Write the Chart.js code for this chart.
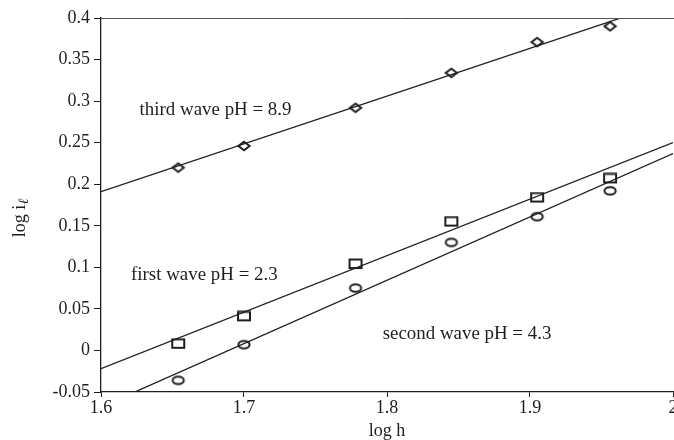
<!DOCTYPE html>
<html>
<head>
<meta charset="utf-8">
<script src="https://cdn.jsdelivr.net/npm/chart.js@4/dist/chart.umd.min.js"></script>
<style>
html,body{margin:0;padding:0;background:#fff;overflow:hidden;width:674px;height:440px}
#c{display:block}
</style>
</head>
<body>
<canvas id="c" width="700" height="440"></canvas>
<script>
// ---- data ----
const logH = [1.654, 1.700, 1.778, 1.845, 1.905, 1.956];
const firstWave = [0.008, 0.041, 0.104, 0.155, 0.184, 0.207];   // pH 2.3 (squares)
const secondWave = [-0.036, 0.007, 0.075, 0.130, 0.161, 0.192]; // pH 4.3 (circles)
const thirdWave = [0.220, 0.246, 0.292, 0.334, 0.371, 0.390];   // pH 8.9 (diamonds)
const fitX = [1.6, 2.0];
const firstFit = [-0.022, 0.250];
const secondFit = [-0.068, 0.237];
const thirdFit = [0.191, 0.421];
const xTicks = [1.6, 1.7, 1.8, 1.9, 2.0];
const yTicks = [-0.05, 0, 0.05, 0.1, 0.15, 0.2, 0.25, 0.3, 0.35, 0.4];
const notes = [
  {text: 'third wave pH = 8.9', x: 1.627, y: 0.289},
  {text: 'first wave pH = 2.3', x: 1.621, y: 0.090},
  {text: 'second wave pH = 4.3', x: 1.797, y: 0.020}
];

// ---- styling ----
const FAMILY = "'Liberation Serif','Times New Roman',serif";
const FS = 18;
const INK = '#1e1e1e';

function marker(kind) {
  const c = document.createElement('canvas');
  c.width = 16; c.height = 12;
  const g = c.getContext('2d');
  g.strokeStyle = INK; g.lineWidth = 2;
  g.beginPath();
  if (kind === 'square') {
    g.rect(2, 1.5, 12, 8.5);
  } else if (kind === 'circle') {
    g.ellipse(8, 6, 5.6, 3.8, 0, 0, Math.PI * 2);
  } else {
    g.moveTo(8, 1.8); g.lineTo(13.6, 6); g.lineTo(8, 10.2); g.lineTo(2.4, 6); g.closePath();
  }
  g.stroke();
  return c;
}

const pts = (xs, ys) => xs.map((x, i) => ({x, y: ys[i]}));
const fmt = v => String(Math.round(v * 100) / 100);

const lineDs = (ys) => ({
  type: 'line', data: pts(fitX, ys), borderColor: INK, borderWidth: 1.3,
  pointRadius: 0, fill: false, showLine: true, order: 2
});
const markDs = (ys, kind) => ({
  type: 'scatter', data: pts(logH, ys), pointStyle: marker(kind), pointRadius: 5,
  showLine: false, order: 1
});

const annotations = {
  id: 'annotations',
  afterDatasetsDraw(chart) {
    const {ctx, scales: {x, y}, chartArea} = chart;
    ctx.save();
    ctx.fillStyle = INK;
    ctx.font = FS + 'px ' + FAMILY;
    ctx.textAlign = 'left';
    ctx.textBaseline = 'middle';
    notes.forEach(n => {
      ctx.save();
      ctx.translate(x.getPixelForValue(n.x), y.getPixelForValue(n.y));
      ctx.scale(1.05, 1);
      ctx.fillText(n.text, 0, 0);
      ctx.restore();
    });
    // top frame line
    ctx.strokeStyle = '#555';
    ctx.lineWidth = 1;
    ctx.beginPath();
    ctx.moveTo(chartArea.left, chartArea.top + 0.5);
    ctx.lineTo(chart.width, chartArea.top + 0.5);
    ctx.stroke();
    // y-axis title with subscript
    const cx = 20, cy = (chartArea.top + chartArea.bottom) / 2 + 13;
    ctx.translate(cx, cy);
    ctx.rotate(-Math.PI / 2);
    const main = 'log i';
    const w1 = ctx.measureText(main).width;
    ctx.font = 'italic ' + Math.round(FS * 0.8) + 'px ' + FAMILY;
    const sub = '\u2113';
    const w2 = ctx.measureText(sub).width;
    const start = -(w1 + w2) / 2;
    ctx.font = FS + 'px ' + FAMILY;
    ctx.fillText(main, start, 0);
    ctx.font = 'italic ' + Math.round(FS * 0.8) + 'px ' + FAMILY;
    ctx.fillText(sub, start + w1 + 0.5, 4);
    ctx.restore();
  }
};

new Chart(document.getElementById('c'), {
  data: {
    datasets: [
      lineDs(firstFit), lineDs(secondFit), lineDs(thirdFit),
      markDs(firstWave, 'square'), markDs(secondWave, 'circle'), markDs(thirdWave, 'diamond')
    ]
  },
  options: {
    responsive: false,
    animation: false,
    events: [],
    layout: {padding: {top: 18, right: 27, bottom: 0, left: 0}},
    plugins: {legend: {display: false}, tooltip: {enabled: false}},
    scales: {
      x: {
        type: 'linear', min: 1.6, max: 2.0,
        afterBuildTicks: s => { s.ticks = xTicks.map(v => ({value: v})); },
        afterFit: s => { s.height = 48; },
        ticks: {font: {family: FAMILY, size: FS}, color: INK, padding: 0, callback: v => fmt(v), maxRotation: 0, autoSkip: false},
        grid: {display: true, drawOnChartArea: false, drawTicks: true, tickLength: 5, color: INK},
        border: {display: true, color: INK, width: 1.3},
        title: {display: true, text: 'log h', color: INK, font: {family: FAMILY, size: FS, lineHeight: 1}, padding: {top: 0, bottom: 0}}
      },
      y: {
        type: 'linear', min: -0.05, max: 0.4,
        afterBuildTicks: s => { s.ticks = yTicks.map(v => ({value: v})); },
        afterFit: s => { s.width = 101; },
        ticks: {font: {family: FAMILY, size: FS}, color: INK, padding: 4, callback: v => fmt(v), autoSkip: false},
        grid: {display: true, drawOnChartArea: false, drawTicks: true, tickLength: 7, color: INK},
        border: {display: true, color: INK, width: 1.3}
      }
    }
  },
  plugins: [annotations, {
    id: 'bg',
    beforeDraw(chart) {
      const c = chart.ctx; c.save(); c.fillStyle = '#fff'; c.fillRect(0, 0, chart.width, chart.height); c.restore();
    }
  }]
});
</script>
</body>
</html>
